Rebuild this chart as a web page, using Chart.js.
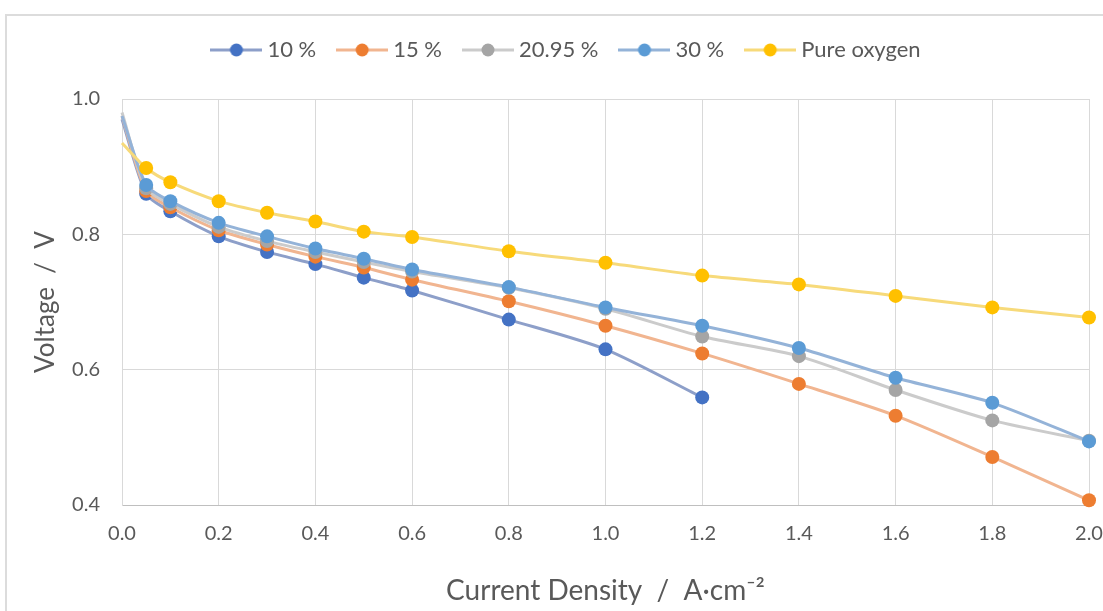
<!DOCTYPE html>
<html lang="en">
<head>
<meta charset="utf-8">
<title>Polarization curves</title>
<script src="https://cdn.jsdelivr.net/npm/chart.js@4.4.1/dist/chart.umd.min.js"></script>
<style>
  html, body { margin: 0; padding: 0; background: #ffffff; overflow: hidden; }
  .moldura {
    position: absolute;
    left: 5px;
    top: 14px;
    width: 1200px;
    height: 700px;
    border-left: 2px solid #dcdcdc;
    border-top: 2px solid #dcdcdc;
  }
  #grafico { position: absolute; left: 0; top: 0; }
</style>
</head>
<body>
<div class="moldura"></div>
<canvas id="grafico" width="1103" height="611"></canvas>
<script>
// current density (A/cm2) shared by every curve
const currentDensity = [0, 0.05, 0.1, 0.2, 0.3, 0.4, 0.5, 0.6, 0.8, 1.0, 1.2, 1.4, 1.6, 1.8, 2.0];

// cell voltage (V) per oxygen content
const voltage10 = [0.970, 0.860, 0.834, 0.797, 0.774, 0.756, 0.736, 0.717, 0.674, 0.630, 0.559];
const voltage15 = [0.975, 0.864, 0.840, 0.806, 0.785, 0.767, 0.751, 0.733, 0.701, 0.665, 0.624, 0.579, 0.532, 0.471, 0.407];
const voltage2095 = [0.980, 0.868, 0.845, 0.811, 0.790, 0.774, 0.759, 0.745, 0.721, 0.690, 0.649, 0.620, 0.570, 0.525, 0.495];
const voltage30 = [0.975, 0.873, 0.849, 0.817, 0.797, 0.779, 0.764, 0.748, 0.722, 0.692, 0.665, 0.632, 0.588, 0.551, 0.494];
const voltagePure = [0.935, 0.898, 0.877, 0.849, 0.832, 0.819, 0.804, 0.796, 0.775, 0.758, 0.739, 0.726, 0.709, 0.692, 0.677];

const seriesNames = ["10 %", "15 %", "20.95 %", "30 %", "Pure oxygen"];
const seriesValues = [voltage10, voltage15, voltage2095, voltage30, voltagePure];
const markerColors = ["#4472C4", "#ED7D31", "#A5A5A5", "#5B9BD5", "#FFC000"];
const lineColors = ["#8d9fc9", "#f1b590", "#cbcbcb", "#94b3d8", "#f7da7a"];

const xTicks = [0, 0.2, 0.4, 0.6, 0.8, 1.0, 1.2, 1.4, 1.6, 1.8, 2.0];
const yTicks = [0.4, 0.6, 0.8, 1.0];

const textColor = "#595959";
const gridColor = "#d9d9d9";

function legendIcon(lineColor, markerColor) {
  const c = document.createElement("canvas");
  c.width = 52;
  c.height = 16;
  const g = c.getContext("2d");
  g.strokeStyle = lineColor;
  g.lineWidth = 3;
  g.beginPath();
  g.moveTo(0, 8);
  g.lineTo(52, 8);
  g.stroke();
  g.fillStyle = markerColor;
  g.beginPath();
  g.arc(26, 8, 6.5, 0, Math.PI * 2);
  g.fill();
  return c;
}

const icons = seriesNames.map((_, i) => legendIcon(lineColors[i], markerColors[i]));

const datasets = seriesNames.map((name, i) => ({
  label: name,
  data: seriesValues[i].map((v, j) => ({ x: currentDensity[j], y: v })),
  borderColor: lineColors[i],
  backgroundColor: markerColors[i],
  pointBackgroundColor: markerColors[i],
  pointBorderColor: markerColors[i],
  pointBorderWidth: 0,
  pointRadius: (ctx) => (ctx.dataIndex === 0 ? 0 : 7),
  borderWidth: 3,
  tension: 0.25,
  clip: false,
  order: seriesNames.length - i
}));

// moves the legend box to its own row above the plot
const legendOffset = {
  id: "legendOffset",
  afterLayout(chart) {
    const lg = chart.legend;
    if (!lg) return;
    lg.top -= 28;
    lg.bottom -= 28;
    lg.left += 18;
    lg.right += 18;
  }
};

new Chart(document.getElementById("grafico"), {
  type: "line",
  data: { datasets },
  plugins: [legendOffset],
  options: {
    responsive: false,
    animation: false,
    layout: { padding: { top: 41, left: 0, right: 2, bottom: 0 } },
    plugins: {
      tooltip: { enabled: false },
      legend: {
        position: "top",
        labels: {
          usePointStyle: true,
          pointStyleWidth: 40,
          padding: 26,
          color: textColor,
          font: { family: "Lato", size: 22 },
          generateLabels: (chart) => chart.data.datasets.map((ds, i) => ({
            text: ds.label,
            fontColor: textColor,
            pointStyle: icons[i],
            datasetIndex: i,
            hidden: false,
            lineWidth: 0
          }))
        }
      }
    },
    scales: {
      x: {
        type: "linear",
        min: 0,
        max: 2,
        afterBuildTicks: (axis) => { axis.ticks = xTicks.map((v) => ({ value: v })); },
        afterFit: (axis) => {
          axis.height = 106;
          axis.paddingLeft = 0;
          axis.paddingRight = 14;
        },
        ticks: {
          color: textColor,
          font: { family: "Lato", size: 20 },
          padding: 17,
          callback: (v) => Number(v).toFixed(1)
        },
        grid: { color: gridColor, drawTicks: false },
        border: { color: "#bfbfbf" },
        title: {
          display: true,
          text: "Current Density  /  A·cm⁻²",
          color: textColor,
          font: { family: "Lato", size: 28 },
          padding: { top: 0, bottom: 3 }
        }
      },
      y: {
        min: 0.4,
        max: 1.0,
        afterBuildTicks: (axis) => { axis.ticks = yTicks.map((v) => ({ value: v })); },
        afterFit: (axis) => { axis.width = 122; },
        ticks: {
          color: textColor,
          font: { family: "Lato", size: 20 },
          padding: 22,
          callback: (v) => Number(v).toFixed(1)
        },
        grid: { color: gridColor, drawTicks: false },
        border: { color: gridColor },
        title: {
          display: true,
          text: "Voltage  /  V",
          color: textColor,
          font: { family: "Lato", size: 26 },
          padding: { top: 30, bottom: 0 }
        }
      }
    }
  }
});
</script>
</body>
</html>
